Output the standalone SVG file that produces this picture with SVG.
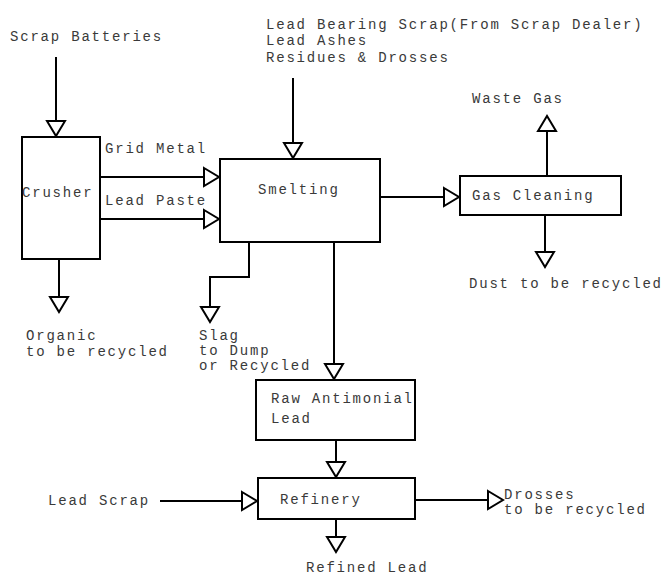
<svg xmlns="http://www.w3.org/2000/svg" width="665" height="577" viewBox="0 0 665 577">
<style>
text{font-family:"Liberation Mono","Courier New",monospace;font-size:14px;letter-spacing:1.8px;fill:#3a3a3a}
.box{fill:#fff;stroke:#000;stroke-width:2}
.c{fill:none;stroke:#000;stroke-width:2}
</style>
<defs>
<marker id="a" markerUnits="userSpaceOnUse" markerWidth="18" markerHeight="20" refX="15" refY="9" orient="auto" overflow="visible">
<path d="M0,0 L15,9 L0,18 Z" fill="#fff" stroke="#000" stroke-width="2" stroke-linejoin="miter"/>
</marker>
</defs>
<rect width="665" height="577" fill="#fff"/>
<g id="connectors">
<path class="c" d="M56,57 V136" marker-end="url(#a)"/>
<path class="c" d="M101,177 H219" marker-end="url(#a)"/>
<path class="c" d="M101,219 H219" marker-end="url(#a)"/>
<path class="c" d="M293,78 V158" marker-end="url(#a)"/>
<path class="c" d="M380,197 H459" marker-end="url(#a)"/>
<path class="c" d="M547,176 V116" marker-end="url(#a)"/>
<path class="c" d="M545,215 V267" marker-end="url(#a)"/>
<path class="c" d="M59,259 V312" marker-end="url(#a)"/>
<path class="c" d="M249,242 V277 H210 V322" marker-end="url(#a)"/>
<path class="c" d="M334,242 V379" marker-end="url(#a)"/>
<path class="c" d="M336,440 V477" marker-end="url(#a)"/>
<path class="c" d="M160,501 H257" marker-end="url(#a)"/>
<path class="c" d="M415,500 H503" marker-end="url(#a)"/>
<path class="c" d="M336,519 V552" marker-end="url(#a)"/>
</g>
<g id="crusher"><rect class="box" x="22" y="137" width="78" height="122"/><text x="22" y="197">Crusher</text></g>
<g id="smelting"><rect class="box" x="220" y="159" width="160" height="83"/><text x="258" y="194">Smelting</text></g>
<g id="gas-cleaning"><rect class="box" x="460" y="176" width="161" height="39"/><text x="472" y="200">Gas Cleaning</text></g>
<g id="raw-antimonial-lead"><rect class="box" x="256" y="380" width="159" height="60"/><text x="271" y="403">Raw Antimonial</text><text x="271" y="423">Lead</text></g>
<g id="refinery"><rect class="box" x="258" y="478" width="157" height="41"/><text x="280" y="504">Refinery</text></g>
<g id="labels">
<text x="10" y="41">Scrap Batteries</text>
<text x="266" y="29">Lead Bearing Scrap(From Scrap Dealer)</text>
<text x="266" y="45">Lead Ashes</text>
<text x="266" y="62">Residues &amp; Drosses</text>
<text x="105" y="153">Grid Metal</text>
<text x="105" y="205">Lead Paste</text>
<text x="472" y="103">Waste Gas</text>
<text x="469" y="288">Dust to be recycled</text>
<text x="26" y="340">Organic</text>
<text x="26" y="356">to be recycled</text>
<text x="199" y="340">Slag</text>
<text x="199" y="355">to Dump</text>
<text x="199" y="370">or Recycled</text>
<text x="48" y="505">Lead Scrap</text>
<text x="504" y="499">Drosses</text>
<text x="504" y="514">to be recycled</text>
<text x="306" y="572">Refined Lead</text>
</g>
</svg>
